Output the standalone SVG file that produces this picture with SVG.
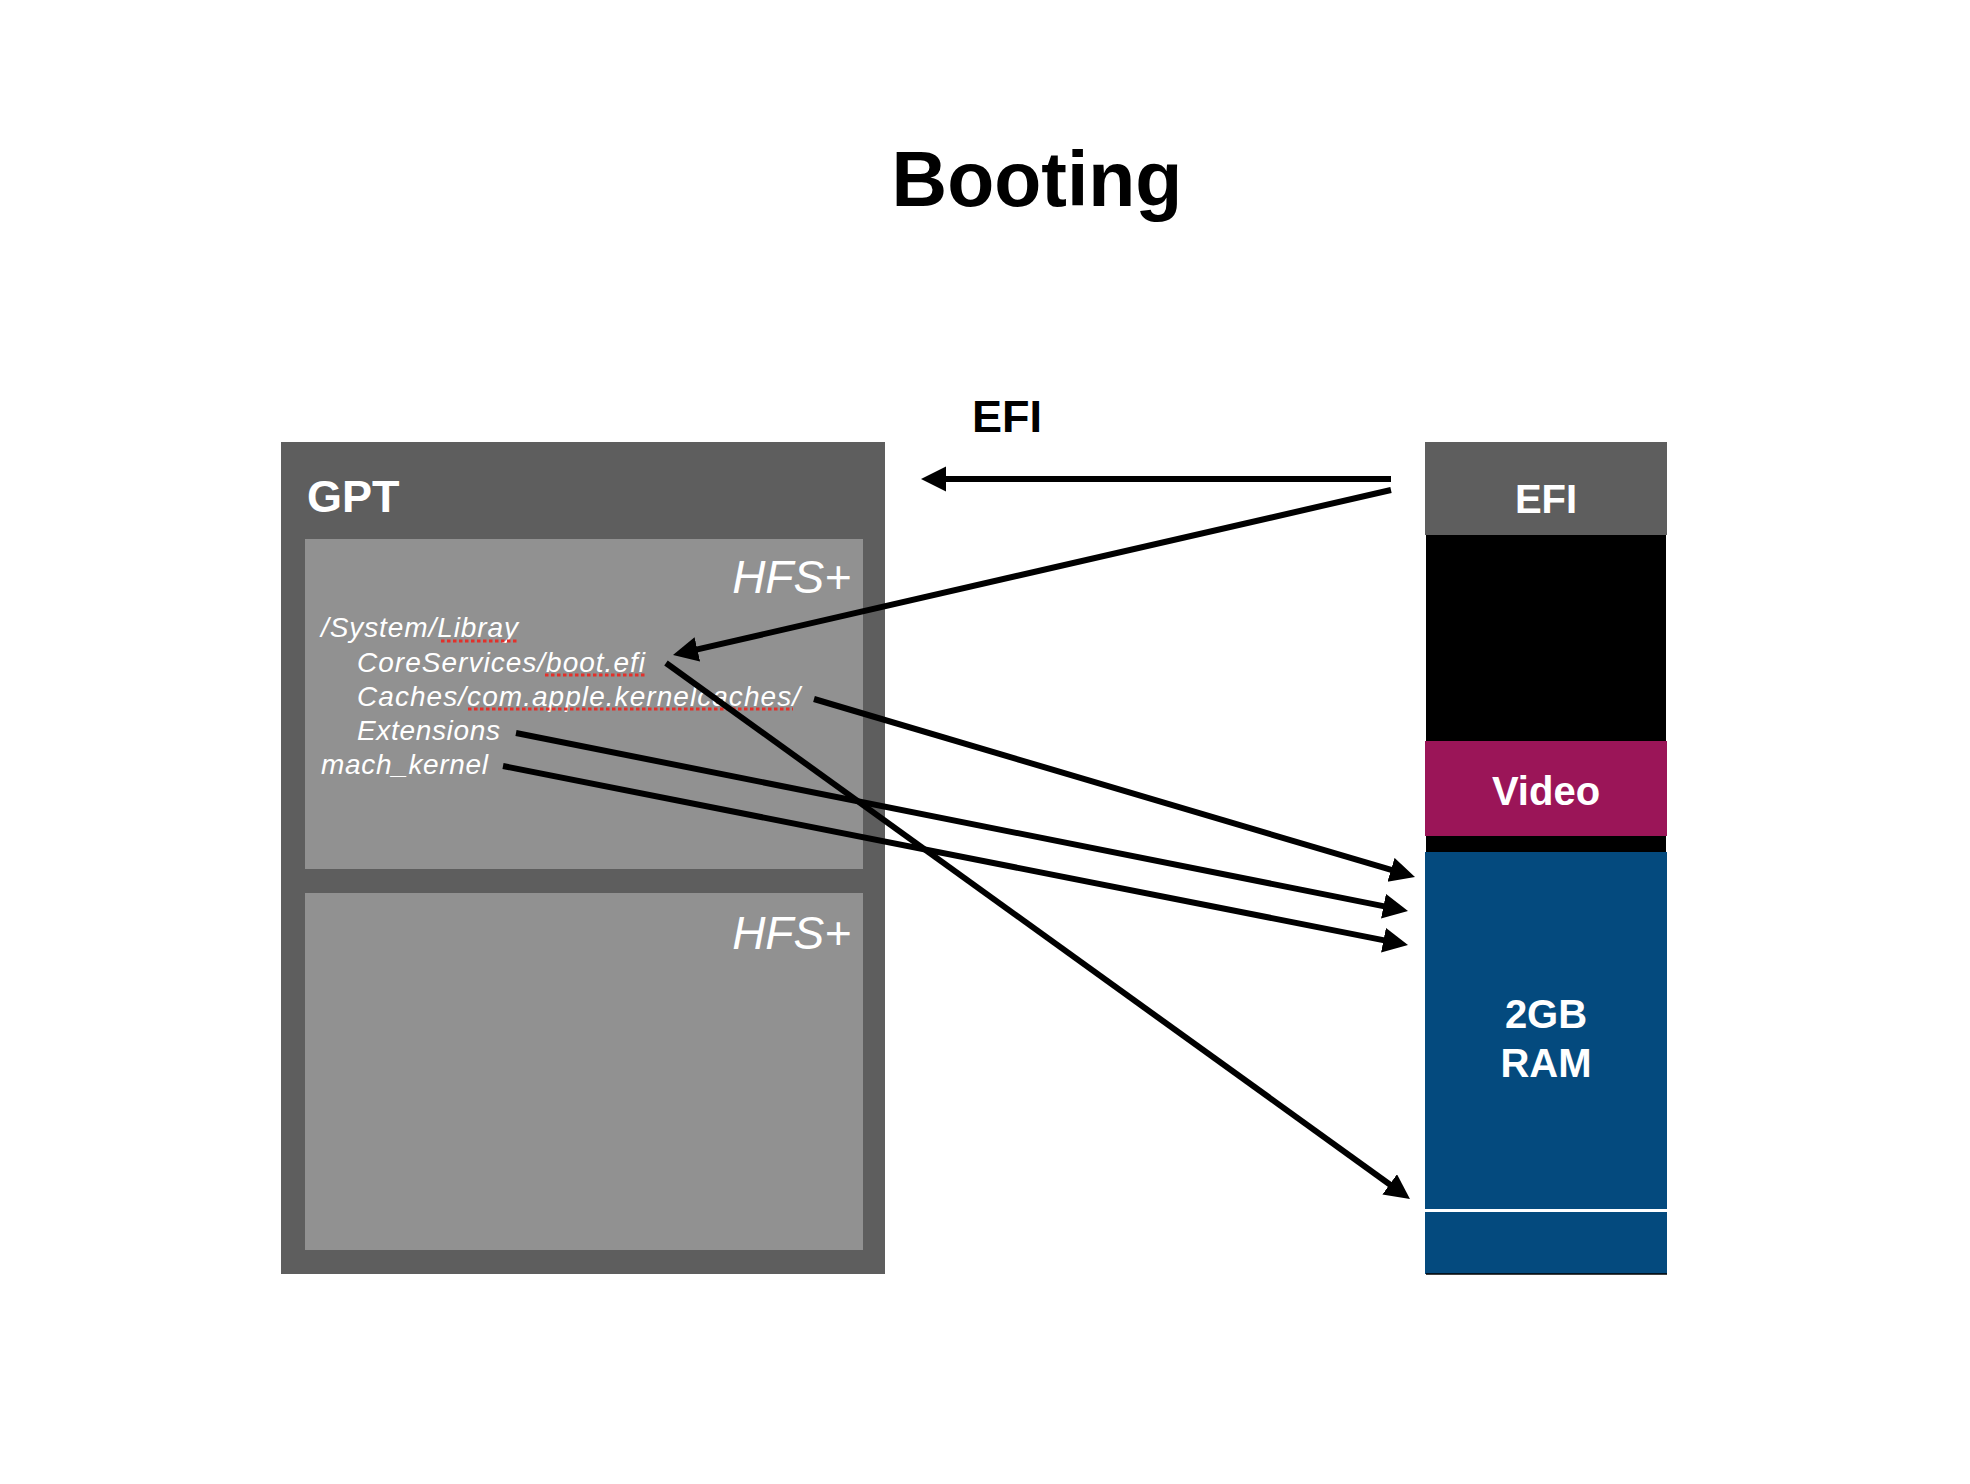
<svg xmlns="http://www.w3.org/2000/svg" width="1970" height="1484" viewBox="0 0 1970 1484">
<style>
.bold{font-family:"Liberation Sans",Arial,sans-serif;font-weight:bold}
.it{font-family:"Liberation Sans",Arial,sans-serif;font-style:italic;fill:#ffffff}
.wh{fill:#ffffff}
.conn{stroke:#000000;stroke-width:6;fill:none;marker-end:url(#ah)}
.spell{stroke:#e3302a;stroke-width:3;stroke-dasharray:3.5 2.5;fill:none}
</style>
<defs>
<marker id="ah" markerUnits="userSpaceOnUse" viewBox="0 0 26 26" markerWidth="26" markerHeight="26" refX="10" refY="12.5" orient="auto">
<path d="M0,0 L25,12.5 L0,25 z" fill="#000000"/>
</marker>
</defs>
<rect width="1970" height="1484" fill="#ffffff"/>
<g id="title">
<text class="bold" x="1037" y="206" font-size="77" text-anchor="middle" fill="#000000">Booting</text>
</g>
<g id="efi-label">
<text class="bold" x="972" y="432" font-size="45" fill="#000000">EFI</text>
</g>
<g id="gpt">
<rect x="281" y="442" width="604" height="832" fill="#5e5e5e"/>
<text class="bold wh" x="307" y="512" font-size="45">GPT</text>
</g>
<g id="hfs1">
<rect x="305" y="539" width="558" height="330" fill="#919191"/>
<text class="it" x="851" y="593" font-size="46" text-anchor="end">HFS+</text>
<text class="it" x="321" y="637" font-size="28" textLength="197" lengthAdjust="spacing">/System/Libray</text>
<text class="it" x="357" y="672" font-size="28" textLength="288" lengthAdjust="spacing">CoreServices/boot.efi</text>
<text class="it" x="357" y="706" font-size="28" textLength="443" lengthAdjust="spacing">Caches/com.apple.kernelcaches/</text>
<text class="it" x="357" y="740" font-size="28" textLength="143" lengthAdjust="spacing">Extensions</text>
<text class="it" x="321" y="774" font-size="28" textLength="167" lengthAdjust="spacing">mach_kernel</text>
<line class="spell" x1="441" y1="641" x2="518" y2="641"/>
<line class="spell" x1="545" y1="675" x2="645" y2="675"/>
<line class="spell" x1="468" y1="709" x2="793" y2="709"/>
</g>
<g id="hfs2">
<rect x="305" y="893" width="558" height="357" fill="#919191"/>
<text class="it" x="851" y="949" font-size="46" text-anchor="end">HFS+</text>
</g>
<g id="memory">
<rect x="1425" y="442" width="242" height="93" fill="#5e5e5e"/>
<text class="bold wh" x="1546" y="513" font-size="40" text-anchor="middle">EFI</text>
<rect x="1426" y="535" width="240" height="206" fill="#000000"/>
<rect x="1425" y="741" width="242" height="95" fill="#9b1558"/>
<text class="bold wh" x="1546" y="805" font-size="40" text-anchor="middle">Video</text>
<rect x="1426" y="836" width="240" height="16" fill="#000000"/>
<rect x="1425" y="852" width="242" height="422" fill="#044a7e"/>
<line x1="1425" y1="1210.5" x2="1667" y2="1210.5" stroke="#ffffff" stroke-width="3"/>
<line x1="1426" y1="1274" x2="1667" y2="1274" stroke="#000000" stroke-width="1.5"/>
<text class="bold wh" x="1546" y="1028" font-size="40" text-anchor="middle">2GB</text>
<text class="bold wh" x="1546" y="1077" font-size="40" text-anchor="middle">RAM</text>
</g>
<g id="connectors">
<line class="conn" x1="1391" y1="479" x2="936" y2="479"/>
<line class="conn" x1="1391" y1="490" x2="687.6" y2="651.6"/>
<line class="conn" x1="666" y1="663" x2="1397.8" y2="1190.2"/>
<line class="conn" x1="814" y1="699" x2="1400.6" y2="872.7"/>
<line class="conn" x1="516" y1="733" x2="1393.3" y2="908.1"/>
<line class="conn" x1="503" y1="766" x2="1393.3" y2="942.1"/>
</g>
</svg>
